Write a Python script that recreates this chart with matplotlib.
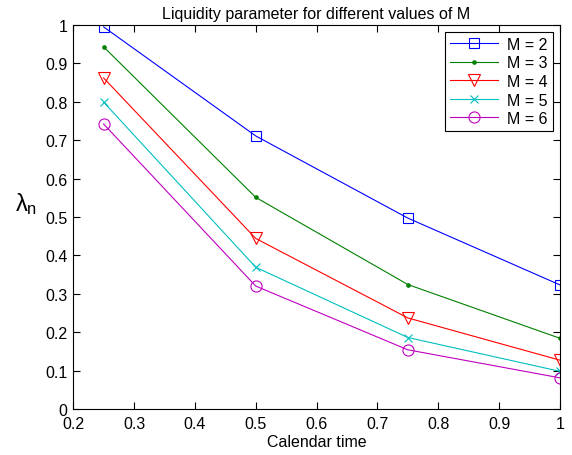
import matplotlib
matplotlib.use("Agg")
import matplotlib.pyplot as plt

plt.rcParams["font.family"] = ["Liberation Sans", "DejaVu Sans"]
plt.rcParams["mathtext.fontset"] = "custom"
plt.rcParams["mathtext.rm"] = "Liberation Sans"
plt.rcParams["mathtext.it"] = "Liberation Sans"

# calendar time and liquidity parameter per M
t = [0.25, 0.5, 0.75, 1.0]
lam_m2 = [0.995, 0.711, 0.497, 0.323]
lam_m3 = [0.943, 0.551, 0.324, 0.184]
lam_m4 = [0.862, 0.444, 0.237, 0.127]
lam_m5 = [0.799, 0.369, 0.186, 0.098]
lam_m6 = [0.742, 0.320, 0.154, 0.081]

series = [
    ("M = 2", lam_m2, (0, 0, 1), "s", 7),
    ("M = 3", lam_m3, (0, 0.5, 0), ".", 5),
    ("M = 4", lam_m4, (1, 0, 0), "v", 9),
    ("M = 5", lam_m5, (0, 0.75, 0.75), "x", 6),
    ("M = 6", lam_m6, (0.75, 0, 0.75), "o", 8),
]

fig = plt.figure(figsize=(5.72, 4.56), dpi=100)
ax = fig.add_axes([0.128, 0.101, 0.851, 0.842])

for label, vals, col, mk, ms in series:
    ax.plot(t, vals, color=col, marker=mk, markersize=ms, linewidth=0.8,
            markerfacecolor="none" if mk not in (".", "x") else col,
            markeredgecolor=col, markeredgewidth=0.8, label=label)

ax.set_xlim(0.2, 1.0)
ax.set_ylim(0, 1)
ax.set_xticks([0.2, 0.3, 0.4, 0.5, 0.6, 0.7, 0.8, 0.9, 1.0])
ax.set_xticklabels(["0.2", "0.3", "0.4", "0.5", "0.6", "0.7", "0.8", "0.9", "1"])
ax.set_yticks([0, 0.1, 0.2, 0.3, 0.4, 0.5, 0.6, 0.7, 0.8, 0.9, 1.0])
ax.set_yticklabels(["0", "0.1", "0.2", "0.3", "0.4", "0.5", "0.6", "0.7", "0.8", "0.9", "1"])
ax.tick_params(direction="in", top=True, right=True, labelsize=11.5, length=5, width=0.8)
ax.tick_params(axis="x", pad=5)
ax.tick_params(axis="y", pad=4)
for s in ax.spines.values():
    s.set_linewidth(0.8)

ax.set_title("Liquidity parameter for different values of M", fontsize=11.5, pad=5)
ax.set_xlabel("Calendar time", fontsize=11.5, labelpad=2)
ax.set_ylabel(r"$\lambda_n$", fontsize=17, rotation=0, ha="center", va="center")
ax.yaxis.set_label_coords(-0.098, 0.535)

leg = ax.legend(loc="upper right", fontsize=11.5, handlelength=3.0, fancybox=False,
                edgecolor="black", framealpha=1, borderaxespad=0.45,
                labelspacing=0.22, borderpad=0.3, handletextpad=0.6)
leg.get_frame().set_linewidth(0.8)

fig.savefig("out.png", dpi=100)
